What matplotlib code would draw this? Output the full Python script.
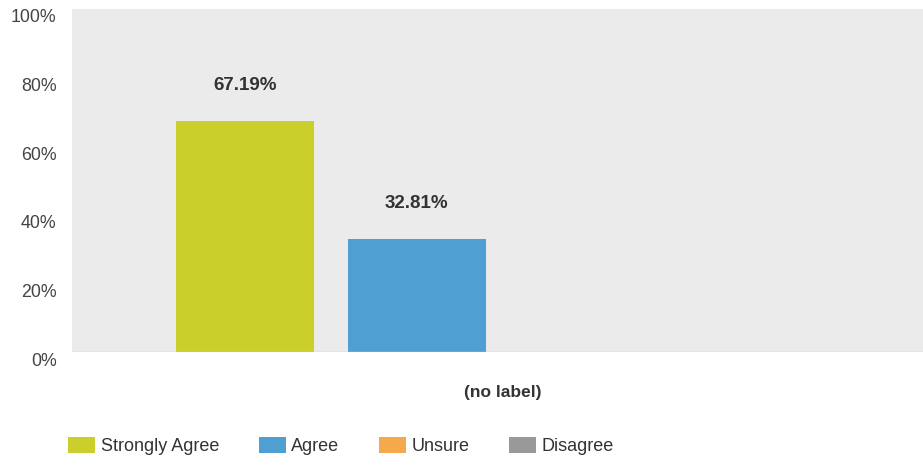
import matplotlib
matplotlib.use("Agg")
import matplotlib.pyplot as plt
import matplotlib.transforms as mtransforms
import numpy as np

plt.rcParams['font.family'] = ['Liberation Sans', 'DejaVu Sans']

categories = ["(no label)"]
series = ["Strongly Agree", "Agree", "Unsure", "Disagree"]
values = [67.19, 32.81, 0.0, 0.0]
colors = ["#cbcf2c", "#4f9fd3", "#f4a94c", "#999999"]
yticks = [0, 20, 40, 60, 80, 100]

fig = plt.figure(figsize=(9.23, 4.65), dpi=100)
ax = fig.add_axes([0.078, 0.243, 0.922, 0.738])
ax.set_facecolor("#ebebeb")

n = len(series)
step = 0.202
width = 0.162
offsets = (np.arange(n) - (n - 1) / 2) * step
for i, (name, val, col) in enumerate(zip(series, values, colors)):
    ax.bar(offsets[i], val, width=width, color=col, label=name, zorder=2)
    if val > 0:
        ax.text(offsets[i], val + 10.5, f"{val:.2f}%", ha="center", va="center",
                fontsize=13.5, fontweight="bold", color="#333333")

ax.set_xlim(-0.506, 0.494)
ax.set_ylim(0, 100)
ax.set_xticks([0])
ax.set_xticklabels(categories, fontsize=12.5, fontweight="bold", color="#333333")
ax.set_yticks(yticks)
ax.set_yticklabels([f"{t}%" for t in yticks], fontsize=12.8, color="#444444")
ax.tick_params(axis="both", length=0)
ax.tick_params(axis="x", pad=24)
ax.tick_params(axis="y", pad=11)
shift = mtransforms.ScaledTranslation(0, -7 / 100, fig.dpi_scale_trans)
for lab in ax.get_yticklabels():
    lab.set_transform(lab.get_transform() + shift)
for s in ax.spines.values():
    s.set_visible(False)
ax.axhline(0, color="#cccccc", linewidth=1, zorder=3)

fig.legend(loc="center left", bbox_to_anchor=(0.0737, 19 / 465), ncol=4, frameon=False,
           fontsize=13, handlelength=1.5, handleheight=0.95, handletextpad=0.3,
           columnspacing=2.2, labelcolor="#333333", borderpad=0, borderaxespad=0)

fig.savefig("out.png", dpi=100)
